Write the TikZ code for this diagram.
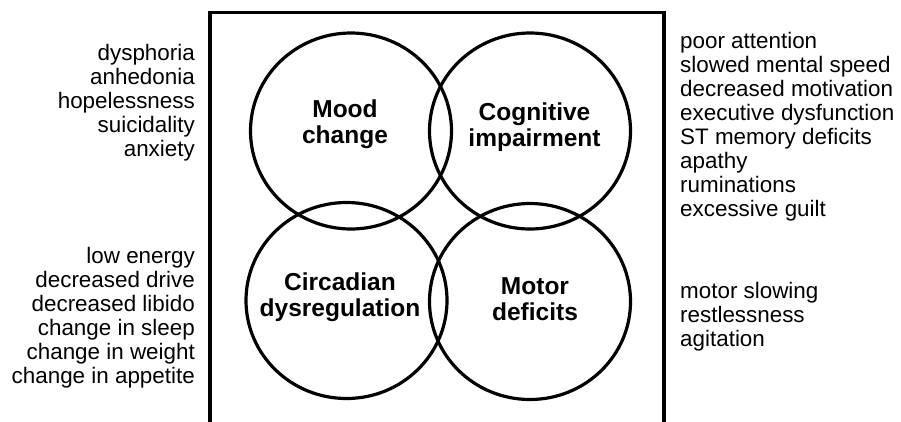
\documentclass[tikz,border=0pt]{standalone}
\usepackage{fontspec}
\setmainfont{Liberation Sans}
\usetikzlibrary{shapes.geometric}
\begin{document}
\begin{tikzpicture}[x=1pt,y=-1pt,
  ring/.style={ellipse, draw, line width=3.2pt, minimum width=201pt, minimum height=196pt, inner sep=0pt},
  ringlabel/.style={font=\bfseries\fontsize{24.5}{26}\selectfont, inner sep=0pt, anchor=base},
  symlist/.style={font=\fontsize{22.4}{24}\selectfont, inner sep=0pt}]
\fill[white] (0,0) rectangle (901,421);
\useasboundingbox (0,0) rectangle (901,421);
% open frame
\coordinate (fbl) at (210,425);
\coordinate (ftl) at (210,12.7);
\coordinate (ftr) at (664,12.7);
\coordinate (fbr) at (664,425);
\draw[line width=3.5pt] (fbl) -- (ftl) -- (ftr) -- (fbr);
% circles
\node[ring] (mood) at (351,131) {};
\node[ring] (cog) at (530,131) {};
\node[ring] (circ) at (346.5,300.5) {};
\node[ring] (motor) at (530,301.5) {};
% circle labels
\node[ringlabel] (moodlbl) at (345,117) {\begin{tabular}[t]{@{}c@{}}Mood\\change\end{tabular}};
\node[ringlabel] (coglbl) at (534.5,120) {\begin{tabular}[t]{@{}c@{}}Cognitive\\impairment\end{tabular}};
\node[ringlabel] (circlbl) at (340,290) {\begin{tabular}[t]{@{}c@{}}Circadian\\dysregulation\end{tabular}};
\node[ringlabel] (motorlbl) at (535,294) {\begin{tabular}[t]{@{}c@{}}Motor\\deficits\end{tabular}};
% symptom lists
\node[symlist, anchor=base east] (moodlist) at (195,60) {\begin{tabular}[t]{@{}r@{}}dysphoria\\anhedonia\\hopelessness\\suicidality\\anxiety\end{tabular}};
\node[symlist, anchor=base east] (circlist) at (195,263) {\begin{tabular}[t]{@{}r@{}}low energy\\decreased drive\\decreased libido\\change in sleep\\change in weight\\change in appetite\end{tabular}};
\node[symlist, anchor=base west] (coglist) at (680,48.3) {\begin{tabular}[t]{@{}l@{}}poor attention\\slowed mental speed\\decreased motivation\\executive dysfunction\\ST memory deficits\\apathy\\ruminations\\excessive guilt\end{tabular}};
\node[symlist, anchor=base west] (motorlist) at (680,298.3) {\begin{tabular}[t]{@{}l@{}}motor slowing\\restlessness\\agitation\end{tabular}};
\end{tikzpicture}
\end{document}
